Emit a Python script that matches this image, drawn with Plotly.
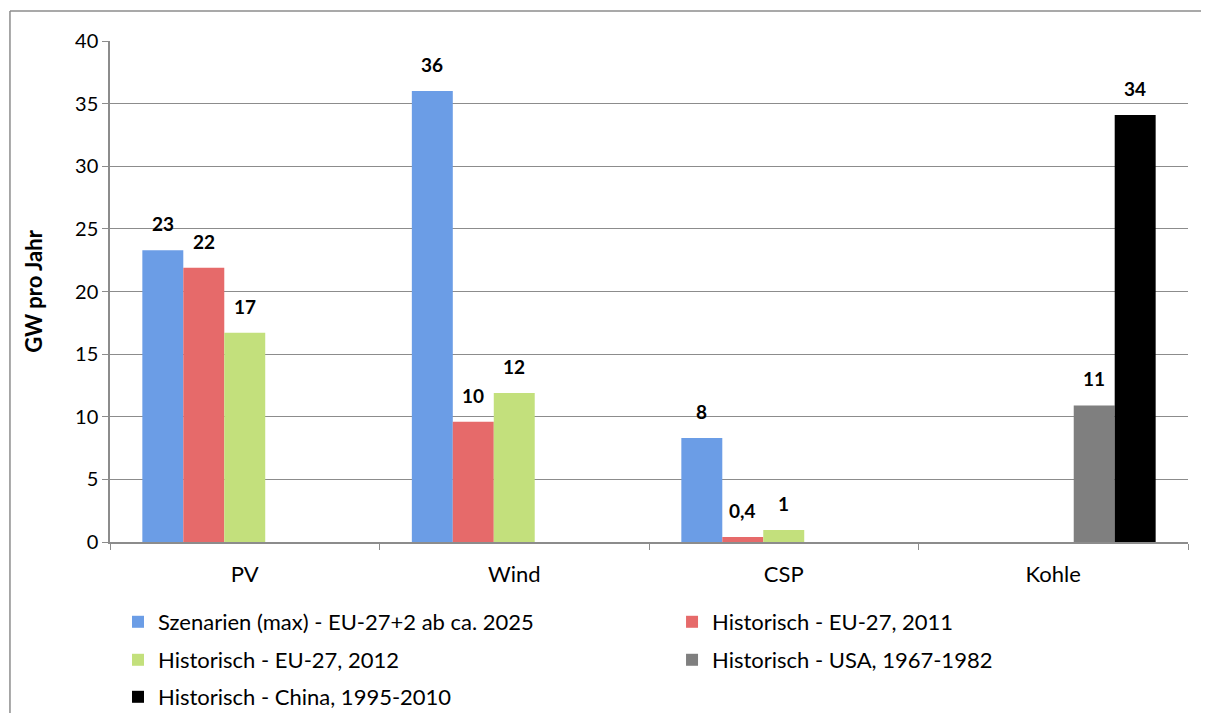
import plotly.graph_objects as go

categories = ["PV", "Wind", "CSP", "Kohle"]
series_names = [
    "Szenarien (max) - EU-27+2 ab ca. 2025",
    "Historisch - EU-27, 2011",
    "Historisch - EU-27, 2012",
    "Historisch - USA, 1967-1982",
    "Historisch - China, 1995-2010",
]
szenarien = [23.3, 36.0, 8.3, None]
hist_eu_2011 = [21.9, 9.6, 0.4, None]
hist_eu_2012 = [16.7, 11.9, 0.95, None]
hist_usa = [None, None, None, 10.9]
hist_china = [None, None, None, 34.1]
labels_szen = ["23", "36", "8", ""]
labels_2011 = ["22", "10", "0,4", ""]
labels_2012 = ["17", "12", "1", ""]
labels_usa = ["", "", "", "11"]
labels_china = ["", "", "", "34"]

values = [szenarien, hist_eu_2011, hist_eu_2012, hist_usa, hist_china]
labels = [labels_szen, labels_2011, labels_2012, labels_usa, labels_china]
colors = ["#6b9de6", "#e66a6a", "#c3e07c", "#7f7f7f", "#000000"]
legend_ids = ["legend", "legend2", "legend3", "legend4", "legend5"]
# legend placement (container coords): two columns, three rows
col_x = [0.0916, 0.5529]
row_y = [0.1291, 0.0752, 0.0227]
legend_pos = [(col_x[0], row_y[0]), (col_x[1], row_y[0]), (col_x[0], row_y[1]),
              (col_x[1], row_y[1]), (col_x[0], row_y[2])]

bargap = 0.24
font = "Lato, 'Open Sans', sans-serif"

fig = go.Figure()
for name, vals, col, lg in zip(series_names, values, colors, legend_ids):
    fig.add_trace(go.Bar(x=categories, y=vals, name=name, marker_color=col,
                         marker_line_width=0, legend=lg))

bw = (1 - bargap) / len(values)
annotations = []
for i, (vals, labs) in enumerate(zip(values, labels)):
    for j, (v, t) in enumerate(zip(vals, labs)):
        if v is None or not t:
            continue
        annotations.append(dict(x=j + (i - 2) * bw, y=v, xref="x", yref="y", text=f"<b>{t}</b>",
                                showarrow=False, yanchor="bottom", yshift=13,
                                font=dict(size=19, color="black", family=font)))

legends = {}
for lg, (lx, ly) in zip(legend_ids, legend_pos):
    legends[lg] = dict(orientation="h", x=lx, y=ly, xref="container", yref="container",
                       xanchor="left", yanchor="middle",
                       bgcolor="rgba(0,0,0,0)", font=dict(size=22, family=font),
                       itemwidth=30)

border = dict(color="#8c8c8c", width=1.5)
fig.update_layout(
    width=1201, height=705,
    margin=dict(l=102, r=21, t=33, b=171, autoexpand=False),
    paper_bgcolor="white", plot_bgcolor="white",
    barmode="group", bargap=bargap, bargroupgap=0,
    font=dict(family=font, color="black"),
    annotations=annotations,
    showlegend=True,
    shapes=[dict(type="line", xref="paper", yref="paper", x0=-0.0928, x1=1.05, y0=1.06, y1=1.06,
                 line=border, layer="below"),
            dict(type="line", xref="paper", yref="paper", x0=-0.0928, x1=-0.0928, y0=-0.36, y1=1.06,
                 line=border, layer="below")],
    **legends,
)
fig.update_yaxes(range=[0, 40], dtick=5, showgrid=True, gridcolor="#8c8c8c", gridwidth=1.2,
                 showline=True, linecolor="#8c8c8c", linewidth=1.5, ticks="outside",
                 ticklen=6, tickcolor="#8c8c8c", tickfont=dict(size=20, color="black"),
                 zeroline=False,
                 title=dict(text="<b>GW pro Jahr</b>", font=dict(size=22), standoff=26))
fig.update_xaxes(showline=True, linecolor="#8c8c8c", linewidth=1.5, ticks="outside",
                 tickson="boundaries", ticklen=6, tickcolor="#8c8c8c", ticklabelstandoff=12,
                 tickfont=dict(size=22, color="black"))

fig.write_html("out.html")
